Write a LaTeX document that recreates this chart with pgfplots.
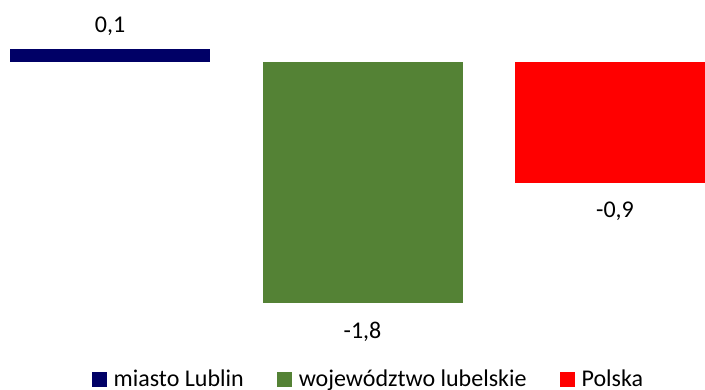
\documentclass[border=0pt]{standalone}
\usepackage{pgfplots}
\pgfplotsset{compat=1.18}
\usepackage{fontspec}
\setmainfont{Carlito}

\definecolor{lublin}{HTML}{000066}
\definecolor{woj}{HTML}{548235}
\definecolor{pl}{HTML}{FF0000}

\begin{document}
\begin{tikzpicture}
\begin{axis}[
  scale only axis, width=705pt, height=389pt,
  hide axis, enlargelimits=false,
  xmin=-0.4356, xmax=2.3564,
  ymin=-2.4457, ymax=0.468,
  font=\fontsize{24}{28}\selectfont,
  /pgf/number format/.cd, use comma, fixed, fixed zerofill, precision=1, assume math mode=true,
  /pgfplots/.cd,
  nodes near coords,
  every node near coord/.append style={font=\fontsize{24}{28}\selectfont, inner ysep=19pt},
  legend columns=3,
  legend style={at={(0.5225,0)}, anchor=south, yshift=-1pt, draw=none, fill=none,
    font=\fontsize{24}{28}\selectfont,
    nodes={inner xsep=2pt, inner ysep=0pt},
    /tikz/every odd column/.append style={column sep=5pt},
    /tikz/every even column/.append style={column sep=31pt}},
  legend image code/.code={\fill[#1] (0pt,-8pt) rectangle (15pt,7pt);},
]
\addplot[ybar, bar width=200pt, bar shift=0pt, fill=lublin, draw=none,
  every node near coord/.append style={inner ysep=13pt}] coordinates {(0,0.1)};
\addplot[ybar, bar width=200pt, bar shift=0pt, fill=woj, draw=none] coordinates {(1,-1.8)};
\addplot[ybar, bar width=200pt, bar shift=0pt, fill=pl, draw=none] coordinates {(2,-0.9)};
\legend{miasto Lublin, województwo lubelskie, Polska}
\end{axis}
\pgfresetboundingbox
\useasboundingbox (current axis.south west) rectangle (current axis.north east);
\end{tikzpicture}
\end{document}
